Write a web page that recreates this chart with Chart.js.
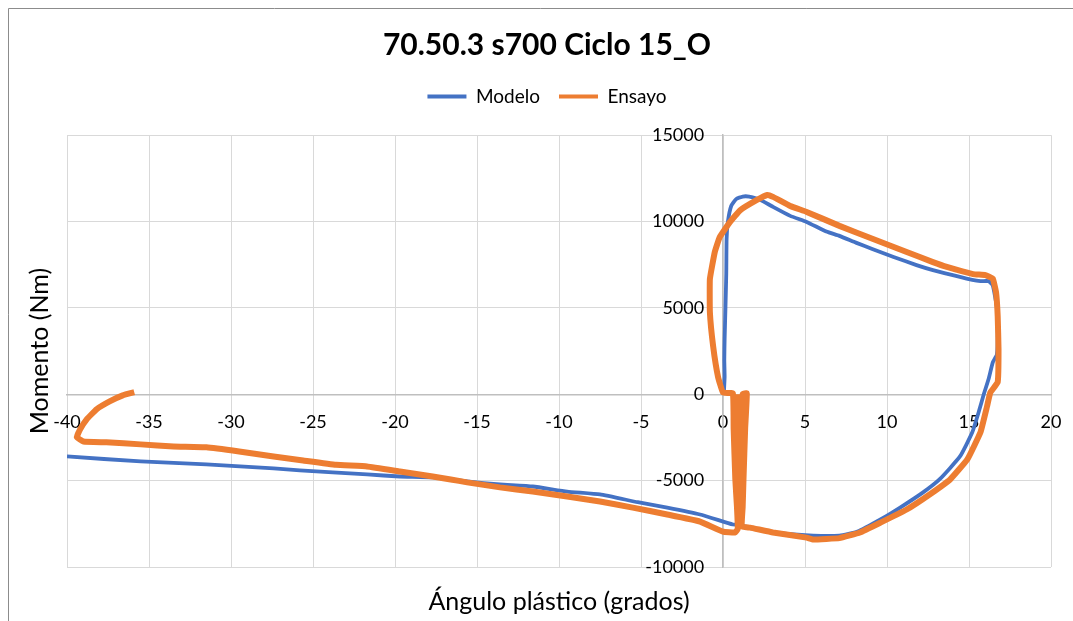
<!DOCTYPE html>
<html><head><meta charset="utf-8">
<script src="https://cdn.jsdelivr.net/npm/chart.js@4/dist/chart.umd.min.js"></script>
<style>html,body{margin:0;padding:0;background:#fff}#wrap{position:relative;width:1073px;height:621px}</style>
</head><body><div id="wrap"><canvas id="c" width="1073" height="621"></canvas></div>
<script>
const titleText = "70.50.3 s700 Ciclo 15_O";
const seriesNames = ["Modelo", "Ensayo"];
const xAxisTitle = "Ángulo plástico (grados)";
const yAxisTitle = "Momento (Nm)";
const xTicks = [-40, -35, -30, -25, -20, -15, -10, -5, 0, 5, 10, 15, 20];
const yTicks = [-10000, -5000, 0, 5000, 10000, 15000];

const modeloX = [0.05, 0.1, 0.08, 0.1, 0.15, 0.2, 0.22, 0.3, 0.5, 0.8, 1.2, 1.6, 2.0, 2.3, 3.05, 4.1, 5.1, 6.3, 7.1, 8.1, 9.1, 10.4, 11.8, 12.8, 14.2, 15.2, 15.7, 16.2, 16.45, 16.7, 16.75, 16.7, 16.45, 16.2, 15.9, 15.6, 15.2, 14.45, 13.2, 12.2, 10.8, 9.6, 8.2, 7.1, 5.5, 3.05, 1.65, 0.85, 0.6, -1.4, -3.4, -5.2, -7.5, -9.5, -11.6, -13.6, -15.6, -17.7, -19.7, -21.7, -23.8, -25.8, -27.4, -31.5, -35.5, -40];
const modeloY = [0, 1000, 2000, 3200, 5000, 7000, 9000, 10000, 10900, 11300, 11450, 11450, 11350, 11250, 10850, 10330, 9980, 9420, 9170, 8780, 8410, 7950, 7480, 7190, 6850, 6620, 6550, 6550, 6300, 5000, 3500, 2300, 1850, 900, 0, -1000, -2200, -3600, -4930, -5680, -6560, -7250, -7950, -8180, -8180, -8000, -7720, -7550, -7540, -6960, -6560, -6250, -5800, -5630, -5340, -5220, -5050, -4810, -4760, -4640, -4520, -4410, -4290, -4060, -3890, -3600];

const ensayoX = [0.9, 0.95, 1.0, 1.1, 1.2, 1.45, 1.35, 1.25, 1.2, 1.15, 1.65, 3.05, 5.1, 5.5, 7.1, 8.35, 9.6, 11.2, 12.6, 13.85, 14.9, 15.7, 16.1, 16.3, 16.75, 16.8, 16.75, 16.65, 16.45, 16.0, 15.25, 13.65, 12.8, 11.2, 9.15, 7.1, 5.1, 4.1, 3.05, 2.7, 2.07, 1.04, 0.43, -0.2, -0.5, -0.8, -0.8, -0.6, -0.3, 0, 0.6, 0.65, 0.75, 0.85, 0.9, 0.73, 0, -1.4, -3.4, -5.5, -7.5, -9.5, -11.6, -13.6, -15.6, -16.6, -17.7, -19.7, -21.7, -23.6, -25.6, -27.4, -29.5, -31.5, -33.5, -35.5, -37.6, -39.0, -39.4, -39.2, -38.8, -38.2, -37.4, -36.6, -35.9];
const ensayoY = [0, -4900, -7600, -4900, 0, 50, -2000, -4900, -6500, -7650, -7720, -8000, -8300, -8410, -8330, -8000, -7430, -6670, -5800, -4930, -3770, -2200, -700, 100, 700, 2600, 4520, 5900, 6700, 6900, 6960, 7370, 7650, 8240, 8990, 9750, 10560, 10900, 11430, 11540, 11250, 10650, 9980, 9100, 8240, 6670, 4760, 2780, 1000, 100, 50, -2000, -4900, -6500, -7800, -8000, -7950, -7370, -6960, -6560, -6210, -5920, -5630, -5390, -5100, -4930, -4760, -4470, -4180, -4080, -3830, -3600, -3310, -3070, -3020, -2900, -2780, -2730, -2490, -2030, -1450, -870, -410, -60, 120];

const colors = ["#4472C4", "#ED7D31"];
const toPts = (xs, ys) => xs.map((x, i) => ({x: x, y: ys[i]}));
const fnt = {family: 'Lato', size: 18};
const setTicks = arr => s => { s.ticks = arr.map(v => ({value: v})); };

const deco = {
  id: 'deco',
  beforeInit(chart) {
    Chart.layouts.addBox(chart, {
      position: 'left', weight: 100, fullSize: false, options: {},
      left: 0, top: 0, right: 0, bottom: 0, width: 0, height: 0,
      update(maxW, maxH) { this.width = 24; this.height = maxH; },
      isHorizontal() { return false; },
      draw() {}
    });
  },
  afterDraw(chart) {
    const ctx = chart.ctx;
    ctx.save();
    ctx.strokeStyle = '#8c8c8c';
    ctx.lineWidth = 1;
    ctx.beginPath();
    ctx.moveTo(8.5, 621); ctx.lineTo(8.5, 8.5); ctx.lineTo(1073, 8.5);
    ctx.stroke();
    ctx.fillStyle = '#000';
    ctx.font = '25px Lato';
    ctx.textAlign = 'center';
    ctx.textBaseline = 'middle';
    const ca = chart.chartArea;
    ctx.fillText(xAxisTitle, (ca.left + ca.right) / 2, 602);
    ctx.translate(40, (ca.top + ca.bottom) / 2);
    ctx.rotate(-Math.PI / 2);
    ctx.fillText(yAxisTitle, 0, 0);
    ctx.restore();
  }
};

new Chart(document.getElementById('c'), {
  type: 'scatter',
  data: {
    datasets: [
      {label: seriesNames[0], data: toPts(modeloX, modeloY), showLine: true, borderColor: colors[0], backgroundColor: colors[0], borderWidth: 3.8, pointRadius: 0, tension: 0.15, order: 2},
      {label: seriesNames[1], data: toPts(ensayoX, ensayoY), showLine: true, borderColor: colors[1], backgroundColor: colors[1], borderWidth: 6, pointRadius: 0, tension: 0.1, order: 1}
    ]
  },
  options: {
    responsive: false,
    animation: false,
    devicePixelRatio: 1,
    layout: {padding: {left: 43, right: 22, top: 0, bottom: 54}},
    plugins: {
      title: {display: true, text: titleText, color: '#000', font: {family: 'Lato', size: 30, weight: 'bold'}, padding: {top: 27, bottom: 5}},
      subtitle: {display: true, text: '', weight: 500, font: {size: 1}, padding: {top: 18, bottom: 0}},
      legend: {
        display: true,
        labels: {
          color: '#000', font: {family: 'Lato', size: 19}, boxWidth: 39, boxHeight: 4, padding: 19,
          sort: (a, b) => a.datasetIndex - b.datasetIndex,
          generateLabels: (chart) => Chart.defaults.plugins.legend.labels.generateLabels(chart).map(it => Object.assign(it, {lineWidth: 0, fillStyle: colors[it.datasetIndex]}))
        }
      },
      tooltip: {enabled: false}
    },
    scales: {
      x: {
        type: 'linear', min: -40, max: 20, position: {y: 0},
        afterBuildTicks: setTicks(xTicks),
        ticks: {display: false, padding: 0},
        grid: {color: '#d9d9d9', drawTicks: false, lineWidth: 1},
        border: {color: '#bfbfbf', width: 1.5}
      },
      xl: {
        type: 'linear', axis: 'x', min: -40, max: 20, position: {y: -1015},
        afterBuildTicks: setTicks(xTicks),
        ticks: {color: '#000', font: fnt, padding: 0, callback: v => String(v), maxRotation: 0},
        grid: {display: false, drawTicks: false},
        border: {display: false}
      },
      y: {
        type: 'linear', min: -10000, max: 15000, position: {x: 0},
        afterBuildTicks: setTicks(yTicks),
        ticks: {display: false},
        grid: {color: '#d9d9d9', drawTicks: false, lineWidth: 1},
        border: {color: '#bfbfbf', width: 1.5}
      },
      yl: {
        type: 'linear', axis: 'y', min: -10000, max: 15000, position: {x: -1.15},
        afterBuildTicks: setTicks(yTicks),
        ticks: {color: '#000', font: fnt, padding: 0, callback: v => String(v)},
        grid: {display: false, drawTicks: false},
        border: {display: false}
      }
    }
  },
  plugins: [deco]
});
</script></body></html>
